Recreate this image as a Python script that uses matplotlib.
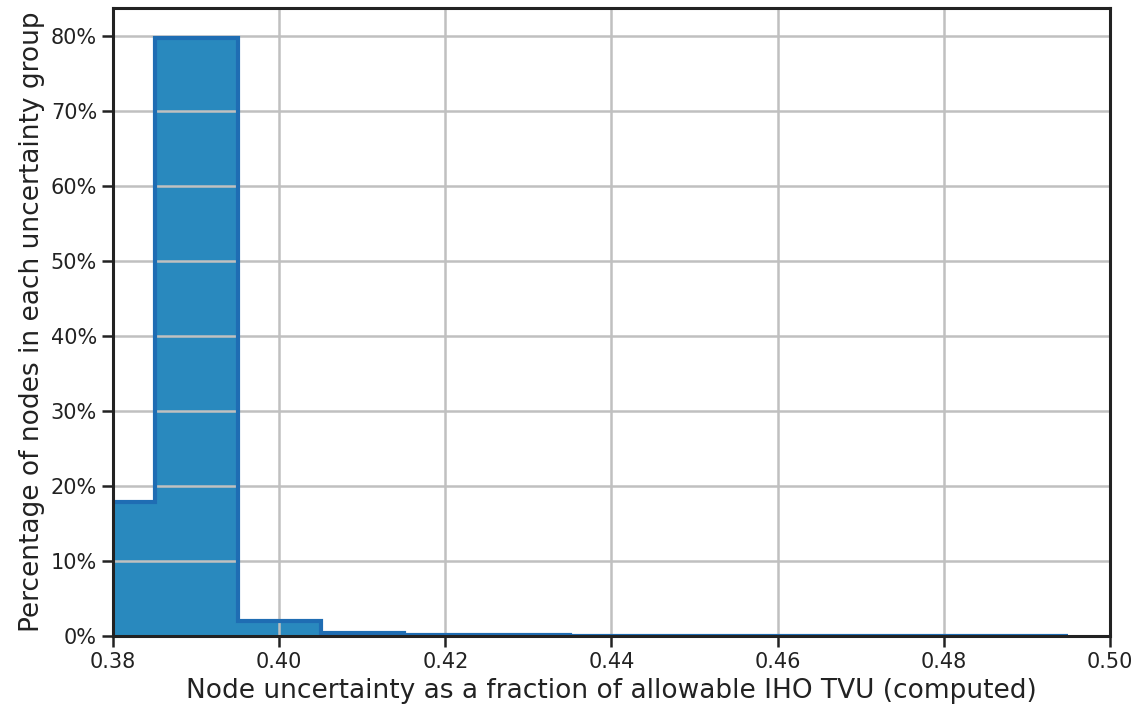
import matplotlib
matplotlib.use("Agg")
import matplotlib.pyplot as plt
from matplotlib.ticker import PercentFormatter
import numpy as np

bin_edges = [0.375, 0.385, 0.395, 0.405, 0.415, 0.425, 0.435, 0.445, 0.455, 0.465, 0.475, 0.485, 0.495]
percentages = [17.8, 79.7, 1.95, 0.35, 0.18, 0.15, 0.003, 0.002, 0.002, 0.002, 0.001, 0.001]

x_label = "Node uncertainty as a fraction of allowable IHO TVU (computed)"
y_label = "Percentage of nodes in each uncertainty group"

fig = plt.figure(figsize=(11.4, 7.15), dpi=100)
ax = fig.add_axes([0.0991, 0.1105, 0.8746, 0.8783])

ax.stairs(percentages, bin_edges, fill=True, color="#2989be", zorder=1, linewidth=0)
ax.grid(True, color="#c0c0c0", linewidth=1.8, zorder=2)
ax.set_axisbelow(False)
for gl in ax.get_xgridlines() + ax.get_ygridlines():
    gl.set_zorder(2)
ax.stairs(percentages, bin_edges, fill=False, color="#1f6db3", linewidth=3, zorder=3)

ax.set_xlim(0.38, 0.50)
ax.set_ylim(0, 83.73)
ax.set_xticks([0.38, 0.40, 0.42, 0.44, 0.46, 0.48, 0.50])
ax.set_yticks(range(0, 81, 10))
ax.yaxis.set_major_formatter(PercentFormatter(decimals=0))
ax.tick_params(labelsize=15, width=1.8, length=8, colors="#222222")
for s in ax.spines.values():
    s.set_linewidth(2.2)
    s.set_color("#222222")
    s.set_zorder(5)
ax.set_xlabel(x_label, fontsize=19, color="#222222")
ax.set_ylabel(y_label, fontsize=19, color="#222222")

fig.savefig("out.png", dpi=100)
